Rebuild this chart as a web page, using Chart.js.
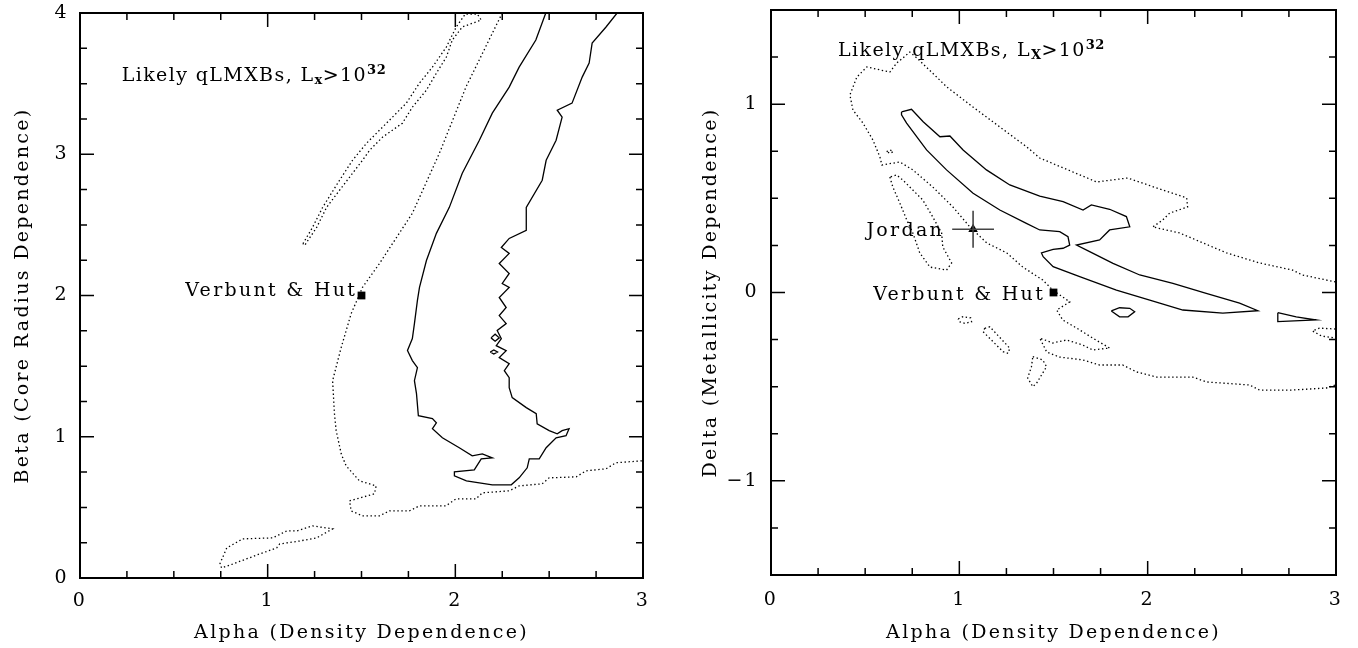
<!DOCTYPE html>
<html>
<head>
<meta charset="utf-8">
<script src="https://cdn.jsdelivr.net/npm/chart.js@4.4.1/dist/chart.umd.min.js"></script>
<style>
  body { margin: 0; background: #fff; }
  canvas { position: absolute; top: 0; }
  #leftChart { left: 0; }
  #rightChart { left: 679px; }
</style>
</head>
<body>
<canvas id="leftChart" width="679" height="648"></canvas>
<canvas id="rightChart" width="679" height="648"></canvas>
<script>
// ---- left panel: Beta vs Alpha ----
const leftXTicks = [0, 1, 2, 3];
const leftYTicks = [0, 1, 2, 3, 4];
const leftOuterDotted = [
  [2.25, 4.0], [2.057, 3.477], [1.915, 3.007], [1.771, 2.582], [1.596, 2.227], [1.505, 2.057],
  [1.49, 2.01], [1.445, 1.872], [1.392, 1.633], [1.346, 1.397], [1.356, 1.163], [1.365, 1.043],
  [1.392, 0.879], [1.418, 0.794], [1.489, 0.688], [1.578, 0.652], [1.569, 0.596], [1.436, 0.546],
  [1.445, 0.475], [1.505, 0.44], [1.596, 0.44], [1.649, 0.475], [1.755, 0.475], [1.809, 0.511],
  [1.95, 0.511], [2.004, 0.56], [2.11, 0.56], [2.144, 0.603], [2.287, 0.617], [2.34, 0.652],
  [2.463, 0.667], [2.5, 0.709], [2.644, 0.716], [2.697, 0.759], [2.803, 0.773], [2.856, 0.816],
  [3.0, 0.83]
];
const leftNarrowLoop = [
  [1.188, 2.367], [1.239, 2.482], [1.293, 2.624], [1.383, 2.816], [1.452, 2.957], [1.527, 3.078],
  [1.633, 3.22], [1.739, 3.362], [1.809, 3.504], [1.878, 3.617], [1.952, 3.759], [2.005, 3.901],
  [2.053, 3.993], [2.117, 3.993], [2.138, 3.95], [2.037, 3.901], [1.984, 3.809], [1.952, 3.688],
  [1.899, 3.574], [1.846, 3.454], [1.771, 3.333], [1.718, 3.22], [1.612, 3.121], [1.543, 3.028],
  [1.505, 2.957], [1.436, 2.837], [1.383, 2.745], [1.314, 2.624], [1.261, 2.482], [1.197, 2.355]
];
const leftSmallLoop = [
  [0.745, 0.099], [0.782, 0.213], [0.867, 0.277], [1.027, 0.284], [1.101, 0.333], [1.154, 0.333],
  [1.239, 0.369], [1.346, 0.348], [1.261, 0.284], [1.17, 0.262], [1.064, 0.241], [1.048, 0.213],
  [0.957, 0.17], [0.814, 0.099], [0.755, 0.071]
];
const leftSolid = [
  [2.482, 4.0], [2.429, 3.809], [2.34, 3.617], [2.287, 3.475], [2.197, 3.291], [2.128, 3.099],
  [2.037, 2.865], [1.968, 2.624], [1.899, 2.44], [1.846, 2.248], [1.809, 2.057], [1.798, 1.965],
  [1.782, 1.801], [1.771, 1.695], [1.745, 1.61], [1.771, 1.539], [1.798, 1.489], [1.782, 1.397],
  [1.793, 1.305], [1.803, 1.149], [1.878, 1.128], [1.899, 1.099], [1.878, 1.057], [1.931, 0.993],
  [2.021, 0.922], [2.09, 0.865], [2.144, 0.879], [2.197, 0.851], [2.138, 0.844], [2.101, 0.766],
  [1.995, 0.752], [1.995, 0.723], [2.059, 0.688], [2.128, 0.674], [2.197, 0.66], [2.298, 0.66],
  [2.34, 0.709], [2.383, 0.78], [2.394, 0.844], [2.447, 0.844], [2.484, 0.922], [2.537, 0.993],
  [2.59, 1.007], [2.606, 1.057], [2.569, 1.043], [2.543, 1.021], [2.5, 1.043], [2.436, 1.092],
  [2.431, 1.163], [2.378, 1.206], [2.303, 1.277], [2.287, 1.348], [2.287, 1.418], [2.261, 1.468],
  [2.287, 1.518], [2.234, 1.56], [2.271, 1.61], [2.218, 1.645], [2.245, 1.695], [2.223, 1.752],
  [2.271, 1.801], [2.234, 1.858], [2.271, 1.915], [2.234, 1.986], [2.287, 2.057], [2.25, 2.085],
  [2.287, 2.156], [2.234, 2.227], [2.287, 2.298], [2.245, 2.34], [2.287, 2.404], [2.378, 2.461],
  [2.378, 2.624], [2.463, 2.816], [2.484, 2.957], [2.537, 3.099], [2.569, 3.262], [2.543, 3.312],
  [2.622, 3.362], [2.676, 3.546], [2.713, 3.645], [2.729, 3.787], [2.803, 3.901], [2.862, 4.0]
];
const leftTinyLoopA = [[2.19, 1.70], [2.212, 1.726], [2.234, 1.70], [2.212, 1.676]];
const leftTinyLoopB = [[2.186, 1.60], [2.205, 1.615], [2.225, 1.60], [2.205, 1.586]];
const leftVerbuntHut = [[1.5, 2.0]];

// ---- right panel: Delta vs Alpha ----
const rightXTicks = [0, 1, 2, 3];
const rightYTicks = [-1, 0, 1];
const rightOuterDotted = [
  [2.997, 0.056], [2.822, 0.093], [2.769, 0.119], [2.594, 0.157], [2.419, 0.21], [2.17, 0.316],
  [2.027, 0.348], [2.08, 0.385], [2.117, 0.422], [2.212, 0.454], [2.207, 0.502], [2.08, 0.544],
  [1.894, 0.608], [1.729, 0.587], [1.427, 0.714], [1.358, 0.773], [1.215, 0.879], [1.072, 0.985],
  [0.934, 1.091], [0.775, 1.245], [0.737, 1.277], [0.7, 1.245], [0.668, 1.219], [0.631, 1.171],
  [0.578, 1.182], [0.509, 1.198], [0.456, 1.144], [0.419, 1.049], [0.435, 0.969], [0.488, 0.9],
  [0.541, 0.81], [0.578, 0.72], [0.589, 0.677], [0.684, 0.693], [0.753, 0.651], [0.859, 0.56],
  [0.966, 0.454], [1.056, 0.348], [1.146, 0.263], [1.252, 0.21], [1.337, 0.135], [1.443, 0.066],
  [1.496, 0.013], [1.586, -0.05], [1.517, -0.093], [1.549, -0.146], [1.623, -0.189], [1.708, -0.242],
  [1.798, -0.295], [1.708, -0.305], [1.655, -0.279], [1.57, -0.252], [1.496, -0.268], [1.427, -0.242],
  [1.464, -0.316], [1.533, -0.343], [1.655, -0.358], [1.745, -0.385], [1.867, -0.385], [1.942, -0.422],
  [2.048, -0.449], [2.239, -0.449], [2.313, -0.475], [2.541, -0.491], [2.594, -0.518], [2.769, -0.518],
  [2.95, -0.507], [2.997, -0.491]
];
const rightEdgeDotted = [[2.997, -0.194], [2.912, -0.189], [2.875, -0.204], [2.923, -0.231], [2.997, -0.242]];
const rightJordanLoop = [
  [0.631, 0.613], [0.647, 0.56], [0.684, 0.475], [0.721, 0.385], [0.753, 0.316], [0.79, 0.21],
  [0.844, 0.135], [0.932, 0.119], [0.959, 0.157], [0.912, 0.242], [0.906, 0.316], [0.859, 0.401],
  [0.806, 0.491], [0.753, 0.544], [0.7, 0.597], [0.667, 0.624]
];
const rightTinyDotted = [[0.614, 0.748], [0.632, 0.757], [0.649, 0.748], [0.632, 0.739]];
const rightLoopA = [[0.994, -0.14], [1.02, -0.128], [1.06, -0.135], [1.065, -0.155], [1.03, -0.164], [1.0, -0.155]];
const rightLoopB = [[1.135, -0.19], [1.162, -0.182], [1.268, -0.296], [1.259, -0.323], [1.232, -0.314], [1.126, -0.208]];
const rightLoopC = [[1.39, -0.341], [1.443, -0.358], [1.463, -0.394], [1.41, -0.482], [1.39, -0.5], [1.363, -0.454], [1.383, -0.394]];
const rightSolid = [
  [0.693, 0.959], [0.746, 0.973], [0.808, 0.907], [0.897, 0.827], [0.95, 0.831], [1.02, 0.757],
  [1.144, 0.651], [1.268, 0.571], [1.427, 0.512], [1.551, 0.482], [1.657, 0.438], [1.701, 0.465],
  [1.798, 0.442], [1.887, 0.403], [1.905, 0.349], [1.798, 0.332], [1.745, 0.279], [1.622, 0.252],
  [1.692, 0.217], [1.816, 0.155], [1.958, 0.093], [2.134, 0.049], [2.311, -0.004], [2.488, -0.057],
  [2.585, -0.097], [2.399, -0.11], [2.187, -0.093], [2.011, -0.04], [1.834, 0.013], [1.639, 0.084],
  [1.498, 0.137], [1.445, 0.19], [1.436, 0.21], [1.498, 0.229], [1.551, 0.235], [1.586, 0.252],
  [1.577, 0.296], [1.533, 0.323], [1.427, 0.332], [1.356, 0.367], [1.215, 0.438], [1.073, 0.527],
  [0.932, 0.651], [0.826, 0.757], [0.72, 0.899], [0.693, 0.943]
];
const rightPentagon = [[1.807, -0.098], [1.851, -0.081], [1.905, -0.084], [1.931, -0.102], [1.896, -0.129], [1.851, -0.129]];
const rightWedge = [[2.691, -0.107], [2.789, -0.129], [2.895, -0.146], [2.691, -0.155]];
const rightVerbuntHut = [[1.5, 0.0]];
const jordan = [1.073, 0.336];
const jordanErr = [0.111, 0.098];

const FAMILY = '"DejaVu Serif", "Liberation Serif", serif';
const LS = 2.3; // wide letter spacing, like the plotting package's stroke font
const FONT = '19px ' + FAMILY;
const SMALL = 'bold 13px ' + FAMILY;

const pts = arr => arr.map(([x, y]) => ({x, y}));
const loop = arr => pts(arr.concat([arr[0]]));

function curve(data, dotted) {
  return {
    data: data,
    showLine: true,
    borderColor: '#000',
    borderWidth: 1.3,
    borderDash: dotted ? [1.4, 2.6] : [],
    pointRadius: 0,
    fill: false,
    tension: 0
  };
}

function marker(data, style, r) {
  return {
    data: pts(data),
    showLine: false,
    pointStyle: style,
    pointRadius: r,
    pointBackgroundColor: '#000',
    pointBorderColor: '#000',
    pointBorderWidth: 0
  };
}

function drawNote(ctx, note, px, py) {
  const ls = note.ls != null ? note.ls : LS;
  let w = 0;
  note.parts.forEach(([t, s]) => {
    ctx.font = s ? SMALL : FONT;
    ctx.letterSpacing = (s ? 0.5 : ls) + 'px';
    w += ctx.measureText(t).width;
  });
  let cx = note.align === 'right' ? px - w + ls : px;
  note.parts.forEach(([t, s]) => {
    ctx.font = s ? SMALL : FONT;
    ctx.letterSpacing = (s ? 0.5 : ls) + 'px';
    ctx.fillText(t, cx, py + (s === 1 ? 3 : s === -1 ? -7 : 0));
    cx += ctx.measureText(t).width;
  });
}

// frame with inward ticks on all four sides, plus the text notes
const boxPlugin = {
  id: 'boxAxes',
  beforeDraw(chart) {
    chart.ctx.letterSpacing = LS + 'px';
  },
  afterDraw(chart, args, opts) {
    const {ctx, chartArea: a, scales: {x, y}} = chart;
    ctx.save();
    ctx.strokeStyle = '#000';
    ctx.lineWidth = 1.5;
    ctx.beginPath();
    for (let v = x.min; v <= x.max + 1e-9; v += 0.25) {
      const p = x.getPixelForValue(v);
      const len = Math.abs(v - Math.round(v)) < 1e-6 ? 14 : 7;
      ctx.moveTo(p, a.bottom); ctx.lineTo(p, a.bottom - len);
      ctx.moveTo(p, a.top); ctx.lineTo(p, a.top + len);
    }
    for (let v = y.min; v <= y.max + 1e-9; v += 0.25) {
      const p = y.getPixelForValue(v);
      const len = Math.abs(v - Math.round(v)) < 1e-6 ? 14 : 7;
      ctx.moveTo(a.left, p); ctx.lineTo(a.left + len, p);
      ctx.moveTo(a.right, p); ctx.lineTo(a.right - len, p);
    }
    ctx.stroke();
    ctx.lineWidth = 2;
    ctx.strokeRect(a.left, a.top, a.right - a.left, a.bottom - a.top);

    ctx.fillStyle = '#000';
    ctx.textBaseline = 'alphabetic';
    ctx.textAlign = 'left';
    (opts.notes || []).forEach(n => {
      drawNote(ctx, n, x.getPixelForValue(n.at[0]), y.getPixelForValue(n.at[1]));
    });
    ctx.restore();
  }
};

const fmt = v => (v < 0 ? '\u2212' + Math.abs(v) : String(v));
const axisFont = {family: FAMILY, size: 19};

function makeOptions(cfg) {
  return {
    responsive: false,
    animation: false,
    devicePixelRatio: 1,
    events: [],
    layout: {padding: {left: 0, top: cfg.top, right: cfg.right, bottom: 0}},
    plugins: {legend: {display: false}, tooltip: {enabled: false}, boxAxes: {notes: cfg.notes}},
    scales: {
      x: {
        type: 'linear', min: 0, max: 3,
        afterBuildTicks: s => { s.ticks = cfg.xTicks.map(v => ({value: v})); },
        afterFit: s => { s.height = cfg.xHeight; s.paddingLeft = 0; s.paddingRight = 0; },
        grid: {display: false, drawTicks: false},
        border: {display: false},
        ticks: {font: axisFont, color: '#000', padding: cfg.xPad, maxRotation: 0, autoSkip: false, callback: fmt},
        title: {display: true, text: 'Alpha (Density Dependence)', font: axisFont, color: '#000', padding: {top: 0, bottom: 4}}
      },
      y: {
        type: 'linear', min: cfg.yMin, max: cfg.yMax,
        afterBuildTicks: s => { s.ticks = cfg.yTicks.map(v => ({value: v})); },
        afterFit: s => { s.width = cfg.yWidth; s.paddingTop = 0; s.paddingBottom = 0; },
        grid: {display: false, drawTicks: false},
        border: {display: false},
        ticks: {font: axisFont, color: '#000', padding: cfg.yPad, autoSkip: false, callback: fmt},
        title: {display: true, text: cfg.yTitle, font: axisFont, color: '#000', padding: {top: cfg.yTitlePad, bottom: 0}}
      }
    }
  };
}

new Chart(document.getElementById('leftChart'), {
  type: 'scatter',
  data: {
    datasets: [
      curve(pts(leftOuterDotted), true),
      curve(loop(leftNarrowLoop), true),
      curve(loop(leftSmallLoop), true),
      curve(pts(leftSolid), false),
      curve(loop(leftTinyLoopA), false),
      curve(loop(leftTinyLoopB), false),
      marker(leftVerbuntHut, 'rect', 5.5)
    ]
  },
  options: makeOptions({
    top: 13, right: 36, xHeight: 70, yWidth: 80, xPad: 12, yPad: 11, yTitlePad: 12,
    yMin: 0, yMax: 4, xTicks: leftXTicks, yTicks: leftYTicks,
    yTitle: 'Beta (Core Radius Dependence)',
    notes: [
      {at: [0.222, 3.519], align: 'left', ls: 1.4, parts: [['Likely qLMXBs, L', 0], ['x', 1], ['>10', 0], ['32', -1]]},
      {at: [1.465, 1.996], align: 'right', parts: [['Verbunt & Hut', 0]]}
    ]
  }),
  plugins: [boxPlugin]
});

new Chart(document.getElementById('rightChart'), {
  type: 'scatter',
  data: {
    datasets: [
      curve(pts(rightOuterDotted), true),
      curve(pts(rightEdgeDotted), true),
      curve(loop(rightJordanLoop), true),
      curve(loop(rightTinyDotted), true),
      curve(loop(rightLoopA), true),
      curve(loop(rightLoopB), true),
      curve(loop(rightLoopC), true),
      curve(loop(rightSolid), false),
      curve(loop(rightPentagon), false),
      curve(loop(rightWedge), false),
      Object.assign(curve(pts([[jordan[0] - jordanErr[0], jordan[1]], [jordan[0] + jordanErr[0], jordan[1]]]), false), {borderColor: '#444', borderWidth: 1.6}),
      Object.assign(curve(pts([[jordan[0], jordan[1] - jordanErr[1]], [jordan[0], jordan[1] + jordanErr[1]]]), false), {borderColor: '#444', borderWidth: 1.6}),
      marker([jordan], 'triangle', 5.5),
      marker(rightVerbuntHut, 'rect', 5.5)
    ]
  },
  options: makeOptions({
    top: 10, right: 22, xHeight: 73, yWidth: 92, xPad: 14, yPad: 12, yTitlePad: 21,
    yMin: -1.5, yMax: 1.5, xTicks: rightXTicks, yTicks: rightYTicks,
    yTitle: 'Delta (Metallicity Dependence)',
    notes: [
      {at: [0.356, 1.256], align: 'left', ls: 1.4, parts: [['Likely qLMXBs, L', 0], ['X', 1], ['>10', 0], ['32', -1]]},
      {at: [0.907, 0.3], align: 'right', parts: [['Jordan', 0]]},
      {at: [1.443, -0.04], align: 'right', parts: [['Verbunt & Hut', 0]]}
    ]
  }),
  plugins: [boxPlugin]
});
</script>
</body>
</html>
